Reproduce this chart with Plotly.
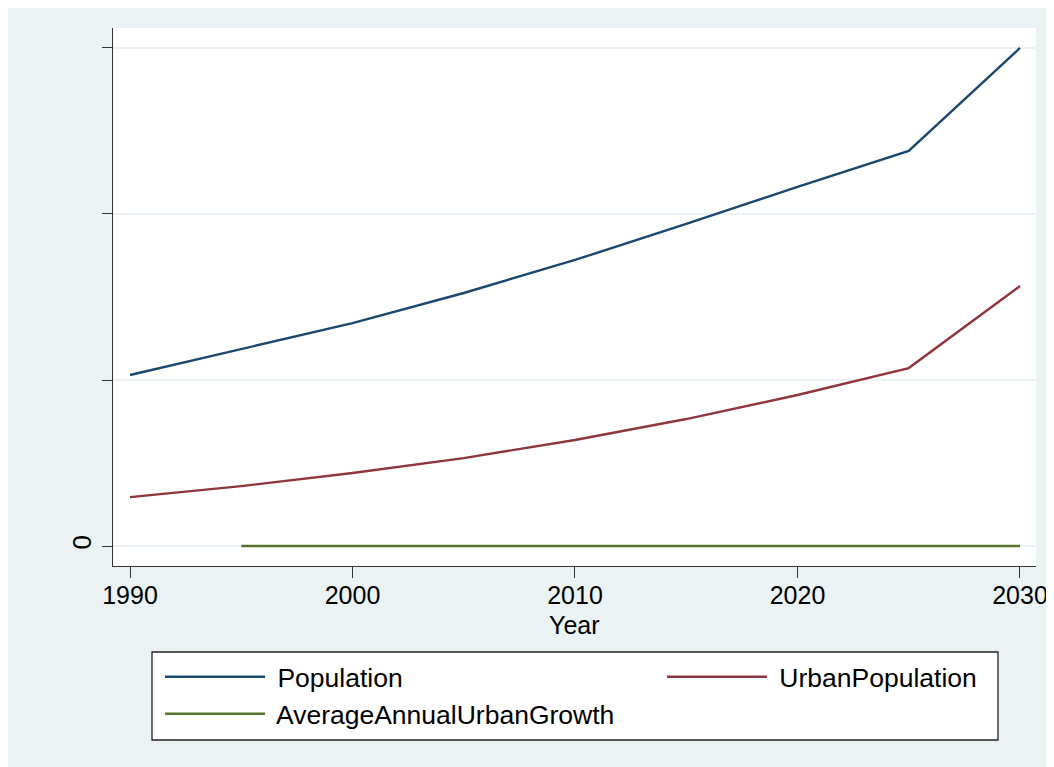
import plotly.graph_objects as go

years = [1990, 1995, 2000, 2005, 2010, 2015, 2020, 2025, 2030]
population = [1.03, 1.187, 1.343, 1.524, 1.723, 1.94, 2.163, 2.38, 3.0]
urban_population = [0.295, 0.361, 0.44, 0.53, 0.639, 0.765, 0.91, 1.072, 1.566]
growth_years = [1995, 2000, 2005, 2010, 2015, 2020, 2025, 2030]
avg_urban_growth = [0, 0, 0, 0, 0, 0, 0, 0]

y_tickvals = [0, 1, 2, 3]
y_ticktext = ["0", "", "", ""]
x_tickvals = [1990, 2000, 2010, 2020, 2030]

FONT = "Liberation Sans, Arial, sans-serif"
LEG_FONT = dict(family=FONT, size=26.5, color="black")

fig = go.Figure()
fig.add_trace(go.Scatter(x=years, y=population, mode="lines", name=" Population",
                         line=dict(color="#1A476F", width=2.4), legend="legend"))
fig.add_trace(go.Scatter(x=years, y=urban_population, mode="lines", name=" UrbanPopulation",
                         line=dict(color="#90353B", width=2.4), legend="legend2"))
fig.add_trace(go.Scatter(x=growth_years, y=avg_urban_growth, mode="lines",
                         name=" AverageAnnualUrbanGrowth",
                         line=dict(color="#55752F", width=2.4), legend="legend3"))

def leg(x, y):
    return dict(x=x, xanchor="left", y=y, yanchor="middle",
                bgcolor="rgba(0,0,0,0)", borderwidth=0,
                itemwidth=100, font=LEG_FONT, itemclick=False, itemdoubleclick=False)

fig.update_layout(
    width=1054, height=767,
    margin=dict(l=105, r=26, t=20, b=209),
    paper_bgcolor="#EAF2F3",
    plot_bgcolor="white",
    font=dict(family=FONT, size=26, color="black"),
    showlegend=True,
    legend=leg(0.0510, -0.2063),
    legend2=leg(0.5948, -0.2063),
    legend3=leg(0.0510, -0.2751),
    shapes=[dict(type="rect", xref="paper", yref="paper",
                 x0=0.04225, x1=0.95883, y0=-0.32342, y1=-0.15985,
                 fillcolor="white", line=dict(color="#222222", width=1.3),
                 layer="below")],
    annotations=[dict(text="Year", xref="paper", yref="paper", x=0.5005, y=-0.1097,
                      xanchor="center", yanchor="middle", showarrow=False,
                      font=dict(family=FONT, size=25, color="black"))],
    xaxis=dict(
        range=[1989.236, 2030.72],
        tickvals=x_tickvals,
        ticks="outside", ticklen=11, tickwidth=1.3, tickcolor="#333333",
        showline=True, linecolor="#333333", linewidth=1.3,
        showgrid=False, zeroline=False,
        tickfont=dict(size=25),
        ticklabelstandoff=-4,
    ),
    yaxis=dict(
        range=[-0.12, 3.12],
        tickvals=y_tickvals, ticktext=y_ticktext,
        tickangle=-90,
        ticks="outside", ticklen=10, tickwidth=1.3, tickcolor="#333333",
        showline=True, linecolor="#333333", linewidth=1.3,
        showgrid=True, gridcolor="#EAF2F3", gridwidth=2,
        zeroline=False,
        tickfont=dict(size=26),
    ),
)

fig.write_html("out.html")
